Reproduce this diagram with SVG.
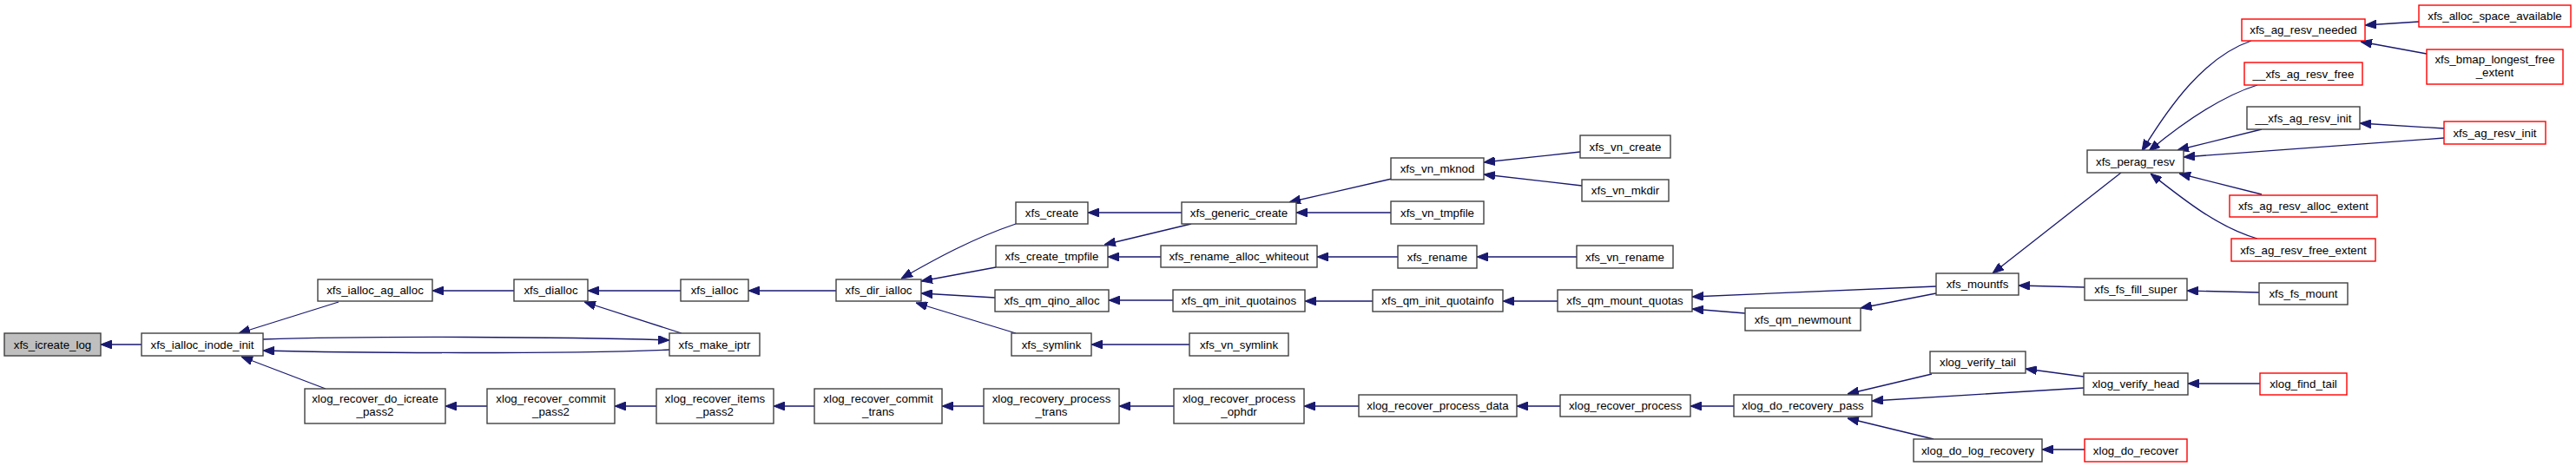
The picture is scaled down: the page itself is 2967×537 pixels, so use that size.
<svg xmlns="http://www.w3.org/2000/svg" width="2967" height="537" viewBox="0 0 2967 537">
<defs>
<style>
.n rect{fill:#fff;stroke:#404040;stroke-width:1.4}
.r rect{stroke:#ff0000}
.g rect{fill:#bfbfbf}
text{font-family:"Liberation Sans",Arial,sans-serif;font-size:13.3px;text-anchor:middle;fill:#000}
#edges path{fill:none;stroke:#191970;stroke-width:1.3;marker-end:url(#ah)}
</style>
<marker id="ah" markerUnits="userSpaceOnUse" markerWidth="13" markerHeight="10" viewBox="0 0 13 10" refX="13" refY="5" orient="auto">
<path d="M0,0 L13,5 L0,10 z" fill="#191970" stroke="#191970" stroke-width="1"/>
</marker>
</defs>
<rect width="2967" height="537" fill="#fff"/>
<g id="edges">
<path d="M163,397 L116,397"/>
<path d="M390,348 L275,384"/>
<path d="M771,403 C650,408 420,407 303,404"/>
<path d="M303,391 C420,387 650,388 771,392"/>
<path d="M375,448 L278,411"/>
<path d="M592,335 L498,335"/>
<path d="M785,384 L673,348"/>
<path d="M784,335 L677,335"/>
<path d="M963,335 L862,335"/>
<path d="M561,468 L513,468"/>
<path d="M756,468 L708,468"/>
<path d="M938,468 L891,468"/>
<path d="M1170,258 C1120,275 1078,298 1038,321"/>
<path d="M1147,308 L1061,324"/>
<path d="M1146,343 L1061,338"/>
<path d="M1170,384 L1055,349"/>
<path d="M1133,468 L1085,468"/>
<path d="M1361,245 L1253,245"/>
<path d="M1372,258 L1272,282"/>
<path d="M1337,296 L1276,296"/>
<path d="M1351,346 L1277,346"/>
<path d="M1370,397 L1257,397"/>
<path d="M1352,468 L1289,468"/>
<path d="M1603,206 L1485,233"/>
<path d="M1602,245 L1493,245"/>
<path d="M1610,296 L1517,296"/>
<path d="M1581,347 L1503,347"/>
<path d="M1565,468 L1502,468"/>
<path d="M1820,175 L1709,187"/>
<path d="M1822,214 L1709,201"/>
<path d="M1816,296 L1701,296"/>
<path d="M1794,347 L1731,347"/>
<path d="M1797,468 L1747,468"/>
<path d="M2230,330 L1949,342"/>
<path d="M2010,361 L1949,356"/>
<path d="M1997,468 L1947,468"/>
<path d="M2230,338 L2143,355"/>
<path d="M2443,199 L2295,315"/>
<path d="M2401,331 L2325,329"/>
<path d="M2225,431 L2128,454"/>
<path d="M2400,447 L2156,462"/>
<path d="M2227,506 L2128,482"/>
<path d="M2400,434 L2333,425"/>
<path d="M2401,518 L2352,518"/>
<path d="M2593,47 C2540,65 2500,120 2467,174"/>
<path d="M2600,98 C2555,112 2510,145 2475,174"/>
<path d="M2605,149 L2508,173"/>
<path d="M2815,159 L2515,181"/>
<path d="M2605,224 L2510,200"/>
<path d="M2600,275 C2555,262 2515,230 2477,200"/>
<path d="M2786,25 L2724,29"/>
<path d="M2795,62 L2719,48"/>
<path d="M2815,148 L2718,142"/>
<path d="M2602,337 L2519,335"/>
<path d="M2603,442 L2520,442"/>
</g>
<g id="n1" class="n g"><rect x="5" y="384" width="111" height="26"/><text x="60.5" y="401.5">xfs_icreate_log</text></g>
<g id="n2" class="n"><rect x="163" y="384" width="140" height="26"/><text x="233" y="401.5">xfs_ialloc_inode_init</text></g>
<g id="n3" class="n"><rect x="366" y="322" width="132" height="25"/><text x="432" y="339">xfs_ialloc_ag_alloc</text></g>
<g id="n4" class="n"><rect x="351" y="448" width="162" height="40"/><text x="432" y="464">xlog_recover_do_icreate</text><text x="432" y="479">_pass2</text></g>
<g id="n5" class="n"><rect x="592" y="322" width="85" height="25"/><text x="634.5" y="339">xfs_dialloc</text></g>
<g id="n6" class="n"><rect x="771" y="384" width="104" height="26"/><text x="823" y="401.5">xfs_make_iptr</text></g>
<g id="n7" class="n"><rect x="784" y="322" width="78" height="25"/><text x="823" y="339">xfs_ialloc</text></g>
<g id="n8" class="n"><rect x="561" y="448" width="147" height="40"/><text x="634.5" y="464">xlog_recover_commit</text><text x="634.5" y="479">_pass2</text></g>
<g id="n9" class="n"><rect x="756" y="448" width="135" height="40"/><text x="823.5" y="464">xlog_recover_items</text><text x="823.5" y="479">_pass2</text></g>
<g id="n10" class="n"><rect x="938" y="448" width="147" height="40"/><text x="1011.5" y="464">xlog_recover_commit</text><text x="1011.5" y="479">_trans</text></g>
<g id="n11" class="n"><rect x="963" y="322" width="98" height="25"/><text x="1012" y="339">xfs_dir_ialloc</text></g>
<g id="n12" class="n"><rect x="1170" y="233" width="83" height="25"/><text x="1211.5" y="250">xfs_create</text></g>
<g id="n13" class="n"><rect x="1361" y="233" width="132" height="25"/><text x="1427" y="250">xfs_generic_create</text></g>
<g id="n14" class="n"><rect x="1147" y="283" width="129" height="25"/><text x="1211.5" y="300">xfs_create_tmpfile</text></g>
<g id="n15" class="n"><rect x="1337" y="283" width="180" height="25"/><text x="1427" y="300">xfs_rename_alloc_whiteout</text></g>
<g id="n16" class="n"><rect x="1146" y="334" width="131" height="25"/><text x="1211.5" y="351">xfs_qm_qino_alloc</text></g>
<g id="n17" class="n"><rect x="1351" y="334" width="152" height="25"/><text x="1427" y="351">xfs_qm_init_quotainos</text></g>
<g id="n18" class="n"><rect x="1165" y="384" width="92" height="26"/><text x="1211" y="401.5">xfs_symlink</text></g>
<g id="n19" class="n"><rect x="1370" y="384" width="114" height="26"/><text x="1427" y="401.5">xfs_vn_symlink</text></g>
<g id="n20" class="n"><rect x="1133" y="448" width="156" height="40"/><text x="1211" y="464">xlog_recovery_process</text><text x="1211" y="479">_trans</text></g>
<g id="n21" class="n"><rect x="1352" y="448" width="150" height="40"/><text x="1427" y="464">xlog_recover_process</text><text x="1427" y="479">_ophdr</text></g>
<g id="n22" class="n"><rect x="1602" y="182" width="107" height="25"/><text x="1655.5" y="199">xfs_vn_mknod</text></g>
<g id="n23" class="n"><rect x="1820" y="156" width="104" height="26"/><text x="1872" y="173.5">xfs_vn_create</text></g>
<g id="n24" class="n"><rect x="1822" y="207" width="100" height="25"/><text x="1872" y="224">xfs_vn_mkdir</text></g>
<g id="n25" class="n"><rect x="1602" y="232" width="107" height="26"/><text x="1655.5" y="249.5">xfs_vn_tmpfile</text></g>
<g id="n26" class="n"><rect x="1610" y="283" width="91" height="26"/><text x="1655.5" y="300.5">xfs_rename</text></g>
<g id="n27" class="n"><rect x="1816" y="283" width="111" height="26"/><text x="1871.5" y="300.5">xfs_vn_rename</text></g>
<g id="n28" class="n"><rect x="1581" y="334" width="150" height="25"/><text x="1656" y="351">xfs_qm_init_quotainfo</text></g>
<g id="n29" class="n"><rect x="1794" y="334" width="155" height="25"/><text x="1871.5" y="351">xfs_qm_mount_quotas</text></g>
<g id="n30" class="n"><rect x="1565" y="455" width="182" height="25"/><text x="1656" y="472">xlog_recover_process_data</text></g>
<g id="n31" class="n"><rect x="1797" y="455" width="150" height="25"/><text x="1872" y="472">xlog_recover_process</text></g>
<g id="n32" class="n"><rect x="1997" y="455" width="159" height="25"/><text x="2076.5" y="472">xlog_do_recovery_pass</text></g>
<g id="n33" class="n"><rect x="2230" y="315" width="95" height="25"/><text x="2277.5" y="332">xfs_mountfs</text></g>
<g id="n34" class="n"><rect x="2010" y="355" width="133" height="26"/><text x="2076.5" y="372.5">xfs_qm_newmount</text></g>
<g id="n35" class="n"><rect x="2401" y="321" width="118" height="25"/><text x="2460" y="338">xfs_fs_fill_super</text></g>
<g id="n36" class="n"><rect x="2223" y="405" width="110" height="25"/><text x="2278" y="422">xlog_verify_tail</text></g>
<g id="n37" class="n"><rect x="2400" y="430" width="120" height="25"/><text x="2460" y="447">xlog_verify_head</text></g>
<g id="n38" class="n"><rect x="2204" y="506" width="148" height="26"/><text x="2278" y="523.5">xlog_do_log_recovery</text></g>
<g id="n39" class="n r"><rect x="2401" y="506" width="118" height="26"/><text x="2460" y="523.5">xlog_do_recover</text></g>
<g id="n40" class="n r"><rect x="2570" y="275" width="166" height="26"/><text x="2653" y="292.5">xfs_ag_resv_free_extent</text></g>
<g id="n41" class="n"><rect x="2602" y="326" width="102" height="25"/><text x="2653" y="343">xfs_fs_mount</text></g>
<g id="n42" class="n r"><rect x="2603" y="430" width="100" height="25"/><text x="2653" y="447">xlog_find_tail</text></g>
<g id="n43" class="n"><rect x="2404" y="173" width="111" height="26"/><text x="2459.5" y="190.5">xfs_perag_resv</text></g>
<g id="n44" class="n r"><rect x="2582" y="22" width="142" height="25"/><text x="2653" y="39">xfs_ag_resv_needed</text></g>
<g id="n45" class="n r"><rect x="2786" y="6" width="175" height="25"/><text x="2873.5" y="23">xfs_alloc_space_available</text></g>
<g id="n46" class="n r"><rect x="2795" y="57" width="157" height="40"/><text x="2873.5" y="73">xfs_bmap_longest_free</text><text x="2873.5" y="88">_extent</text></g>
<g id="n47" class="n r"><rect x="2585" y="72" width="136" height="26"/><text x="2653" y="89.5">__xfs_ag_resv_free</text></g>
<g id="n48" class="n"><rect x="2588" y="123" width="130" height="26"/><text x="2653" y="140.5">__xfs_ag_resv_init</text></g>
<g id="n49" class="n r"><rect x="2815" y="140" width="117" height="26"/><text x="2873.5" y="157.5">xfs_ag_resv_init</text></g>
<g id="n50" class="n r"><rect x="2568" y="225" width="170" height="25"/><text x="2653" y="242">xfs_ag_resv_alloc_extent</text></g>
</svg>
